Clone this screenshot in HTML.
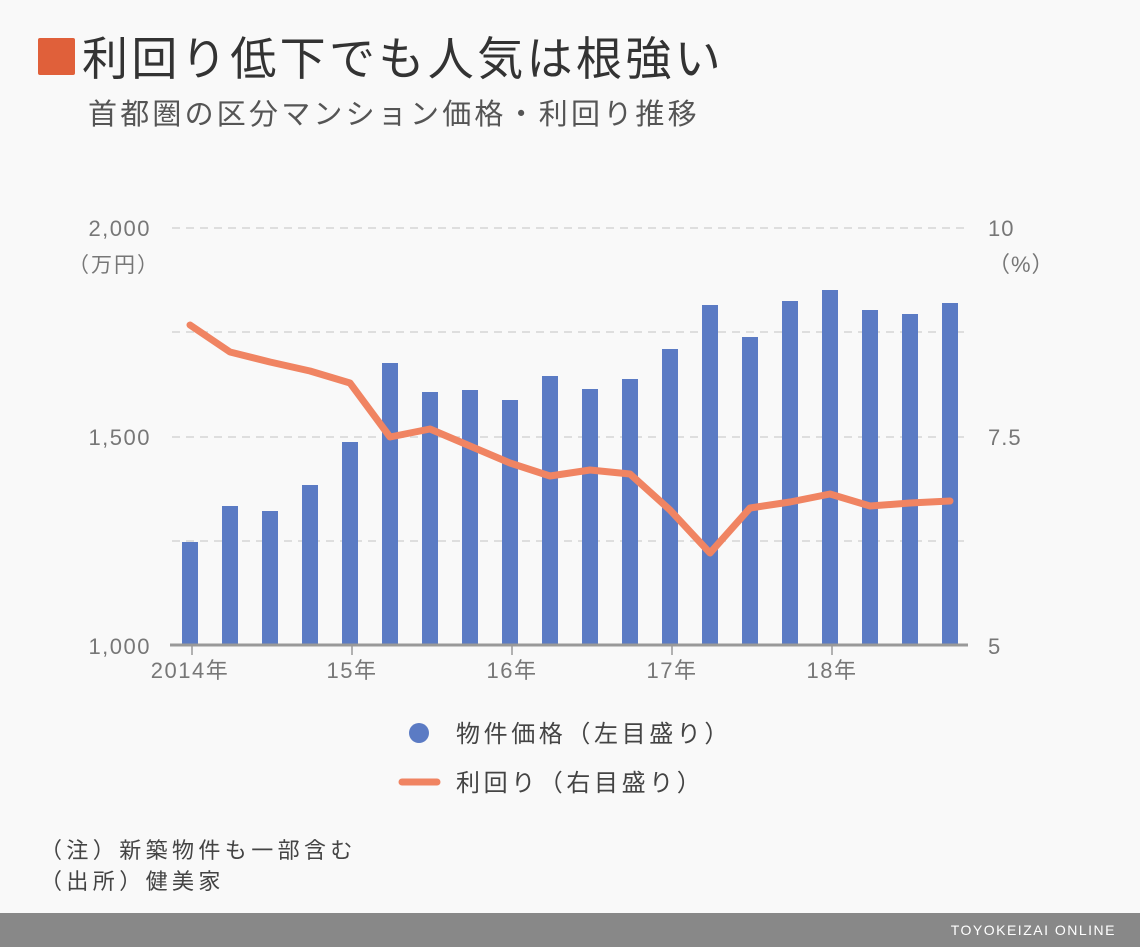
<!DOCTYPE html>
<html><head><meta charset="utf-8"><style>
body{margin:0;background:#f9f9f9;}
svg{display:block}
text{font-family:"Liberation Sans","Noto Sans CJK JP",sans-serif;}
</style></head><body>
<svg width="1140" height="947" viewBox="0 0 1140 947">
<rect width="1140" height="947" fill="#f9f9f9"/>
<rect x="38" y="38" width="37" height="37" rx="2" fill="#e0603a"/>
<text x="82" y="75" font-size="46" fill="#333" letter-spacing="3.4">利回り低下でも人気は根強い</text>
<text x="88" y="124" font-size="29" fill="#555" letter-spacing="3.2">首都圏の区分マンション価格・利回り推移</text>
<g stroke="#d5d5d5" stroke-width="1.5" stroke-dasharray="8,6">
<line x1="172" y1="228" x2="968" y2="228"/>
<line x1="172" y1="332" x2="968" y2="332"/>
<line x1="172" y1="437" x2="968" y2="437"/>
<line x1="172" y1="541" x2="968" y2="541"/>
</g>
<g fill="#5b7bc4">
<rect x="182" y="542" width="16" height="103"/>
<rect x="222" y="506" width="16" height="139"/>
<rect x="262" y="511" width="16" height="134"/>
<rect x="302" y="485" width="16" height="160"/>
<rect x="342" y="442" width="16" height="203"/>
<rect x="382" y="363" width="16" height="282"/>
<rect x="422" y="392" width="16" height="253"/>
<rect x="462" y="390" width="16" height="255"/>
<rect x="502" y="400" width="16" height="245"/>
<rect x="542" y="376" width="16" height="269"/>
<rect x="582" y="389" width="16" height="256"/>
<rect x="622" y="379" width="16" height="266"/>
<rect x="662" y="349" width="16" height="296"/>
<rect x="702" y="305" width="16" height="340"/>
<rect x="742" y="337" width="16" height="308"/>
<rect x="782" y="301" width="16" height="344"/>
<rect x="822" y="290" width="16" height="355"/>
<rect x="862" y="310" width="16" height="335"/>
<rect x="902" y="314" width="16" height="331"/>
<rect x="942" y="303" width="16" height="342"/>
</g>
<line x1="170" y1="645" x2="968" y2="645" stroke="#999" stroke-width="3"/>
<g stroke="#999" stroke-width="1.5">
<line x1="192" y1="646" x2="192" y2="655"/><line x1="352" y1="646" x2="352" y2="655"/>
<line x1="512" y1="646" x2="512" y2="655"/><line x1="672" y1="646" x2="672" y2="655"/>
<line x1="832" y1="646" x2="832" y2="655"/>
</g>
<polyline fill="none" stroke="#f08462" stroke-width="7" stroke-linejoin="round" stroke-linecap="round"
points="190,325 230,352 270,362 310,371 350,383 390,437 430,429 470,446 510,463 550,476 590,470 630,474 670,510 710,553 750,508 790,502 830,494 870,506 910,503 950,501"/>
<g font-size="22" fill="#777" text-anchor="end" letter-spacing="1.5">
<text x="151" y="236">2,000</text>
<text x="151" y="445">1,500</text>
<text x="151" y="654">1,000</text>
</g>
<text x="68" y="272" font-size="21" fill="#777" letter-spacing="2">（万円）</text>
<g font-size="22" fill="#777" letter-spacing="1">
<text x="988" y="236">10</text>
<text x="988" y="445">7.5</text>
<text x="988" y="654">5</text>
<text x="988" y="272">（%）</text>
</g>
<g font-size="22" fill="#777" text-anchor="middle" letter-spacing="1.5">
<text x="190" y="678">2014年</text><text x="352" y="678">15年</text>
<text x="512" y="678">16年</text><text x="672" y="678">17年</text><text x="832" y="678">18年</text>
</g>
<circle cx="419" cy="733" r="10" fill="#5b7bc4"/>
<text x="456" y="742" font-size="24" fill="#444" letter-spacing="3.6">物件価格（左目盛り）</text>
<line x1="402" y1="782" x2="437" y2="782" stroke="#f08462" stroke-width="7" stroke-linecap="round"/>
<text x="456" y="791" font-size="24" fill="#444" letter-spacing="3.6">利回り（右目盛り）</text>
<text x="40" y="858" font-size="22" fill="#444" letter-spacing="4.4">（注）新築物件も一部含む</text>
<text x="40" y="889" font-size="22" fill="#444" letter-spacing="4.4">（出所）健美家</text>
<rect x="0" y="913" width="1140" height="34" fill="#888"/>
<text x="1116" y="935" font-size="14" fill="#fff" text-anchor="end" letter-spacing="1.5">TOYOKEIZAI ONLINE</text>
</svg>
</body></html>
